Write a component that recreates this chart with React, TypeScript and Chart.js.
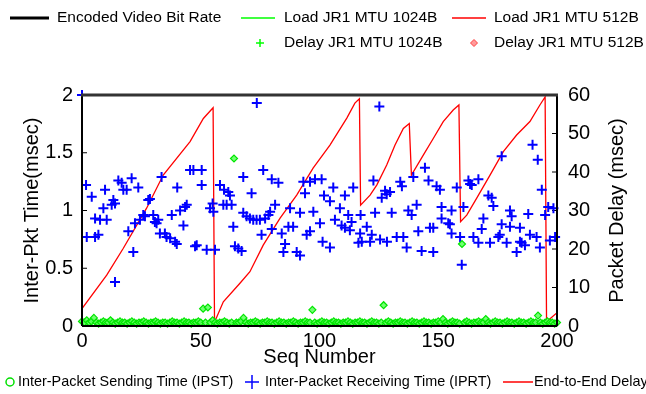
import { useEffect, useRef } from "react";
import { Chart, registerables } from "chart.js";
Chart.register(...registerables);

const FONT = '"Liberation Sans", Arial, Helvetica, sans-serif';

// Inter-Packet Sending Time (IPST), msec, one per sequence number 0..200
const ipstTime = [
  0.04, 0.03, 0.05, 0.03, 0.04, 0.07, 0.03, 0.02, 0.03, 0.04, 0.03, 0.03, 0.05, 0.03, 0.02, 0.03, 0.04, 0.03, 0.03, 0.02,
  0.03, 0.04, 0.03, 0.02, 0.03, 0.03, 0.04, 0.03, 0.02, 0.03, 0.03, 0.04, 0.03, 0.02, 0.03, 0.03, 0.02, 0.03, 0.04, 0.03,
  0.03, 0.02, 0.03, 0.04, 0.03, 0.03, 0.02, 0.03, 0.03, 0.04, 0.03, 0.15, 0.03, 0.16, 0.03, 0.05, 0.03, 0.02, 0.03, 0.03,
  0.04, 0.03, 0.02, 0.03, 1.45, 0.03, 0.03, 0.04, 0.07, 0.03, 0.02, 0.03, 0.03, 0.04, 0.03, 0.02, 0.03, 0.03, 0.04, 0.03,
  0.03, 0.02, 0.03, 0.04, 0.03, 0.03, 0.02, 0.03, 0.03, 0.04, 0.03, 0.02, 0.03, 0.03, 0.04, 0.03, 0.03, 0.14, 0.03, 0.02,
  0.03, 0.04, 0.03, 0.03, 0.02, 0.03, 0.04, 0.03, 0.03, 0.02, 0.03, 0.03, 0.04, 0.03, 0.02, 0.03, 0.03, 0.04, 0.03, 0.03,
  0.02, 0.03, 0.04, 0.03, 0.03, 0.02, 0.03, 0.18, 0.03, 0.04, 0.03, 0.02, 0.03, 0.03, 0.04, 0.03, 0.03, 0.02, 0.03, 0.04,
  0.03, 0.03, 0.02, 0.03, 0.04, 0.03, 0.03, 0.02, 0.03, 0.03, 0.04, 0.03, 0.06, 0.03, 0.02, 0.03, 0.04, 0.03, 0.03, 0.02,
  0.71, 0.03, 0.04, 0.03, 0.02, 0.03, 0.03, 0.04, 0.03, 0.03, 0.06, 0.03, 0.02, 0.03, 0.04, 0.03, 0.03, 0.02, 0.03, 0.04,
  0.03, 0.03, 0.02, 0.03, 0.04, 0.03, 0.03, 0.02, 0.03, 0.04, 0.03, 0.03, 0.09, 0.03, 0.02, 0.03, 0.04, 0.03, 0.03, 0.02,
  0.03,
];

// Inter-Packet Receiving Time (IPRT)
const iprtSeq = [
  0, 1.7, 2.0, 4.1, 5.5, 5.5, 6.9, 7.6, 9.0, 9.7,
  10.4, 12.5, 13.2, 13.9, 13.9, 15.3, 16.7, 17.4, 18.8, 19.5,
  20.9, 21.6, 22.3, 23.7, 24.4, 25.8, 26.5, 27.9, 28.6, 30.0,
  30.7, 31.4, 32.1, 32.8, 33.5, 34.9, 35.6, 37.1, 37.8, 39.2,
  39.9, 40.1, 41.3, 42.7, 43.4, 44.1, 45.5, 46.9, 47.6, 48.3,
  50.4, 50.4, 52.5, 53.9, 55.0, 55.3, 56.0, 58.1, 59.5, 59.8,
  60.9, 61.6, 62.3, 63.0, 63.7, 64.4, 65.8, 67.2, 67.9, 67.9,
  69.3, 70.7, 71.4, 72.1, 73.5, 73.6, 74.9, 75.6, 76.3, 77.1,
  78.5, 79.2, 79.9, 79.9, 81.3, 82.7, 84.1, 84.8, 85.5, 86.9,
  87.6, 88.9, 90.4, 91.8, 91.8, 93.2, 93.9, 94.6, 96.0, 96.0,
  97.4, 98.1, 100.2, 100.9, 101.3, 101.9, 104.4, 104.4, 105.8, 106.5,
  108.6, 109.3, 110.7, 110.7, 112.1, 112.8, 113.5, 114.2, 116.4, 117.1,
  117.3, 117.8, 119.9, 121.3, 122.0, 122.7, 123.4, 125.2, 125.5, 126.2,
  127.6, 128.3, 128.4, 129.7, 130.4, 132.5, 134.0, 134.7, 135.3, 136.7,
  137.4, 138.8, 139.5, 140.9, 141.6, 143.0, 144.4, 145.9, 146.5, 147.9,
  147.9, 149.3, 150.7, 151.4, 151.4, 154.2, 154.9, 155.6, 155.6, 157.8,
  159.2, 159.9, 160.6, 162.7, 163.4, 164.1, 164.8, 166.9, 166.9, 168.3,
  169.0, 171.1, 171.8, 172.5, 173.2, 175.3, 175.9, 176.7, 176.7, 178.8,
  180.2, 180.9, 180.2, 183.0, 184.4, 185.1, 186.5, 184.4, 187.9, 188.6,
  189.7, 191.4, 191.9, 192.8, 193.6, 195.0, 196.3, 197.0, 198.5, 199.2,
];
const iprtTime = [
  2.0, 1.22, 0.77, 1.12, 0.77, 0.93, 0.79, 0.92, 1.02, 1.18,
  0.92, 1.05, 1.09, 1.06, 0.38, 1.26, 1.24, 1.18, 1.18, 0.82,
  1.28, 0.64, 0.89, 1.20, 0.92, 0.96, 0.95, 1.09, 1.10, 0.96,
  0.90, 0.89, 0.92, 0.80, 1.29, 0.80, 0.77, 0.76, 0.96, 0.73,
  0.71, 1.20, 1.00, 0.87, 1.03, 1.05, 1.35, 1.35, 0.69, 0.70,
  1.35, 1.22, 0.66, 1.02, 1.06, 0.99, 0.66, 1.22, 1.05, 1.18,
  1.05, 1.16, 1.13, 1.05, 0.86, 0.69, 0.67, 0.65, 1.29, 0.98,
  0.95, 0.93, 1.15, 0.92, 0.92, 1.93, 0.92, 0.79, 1.35, 0.93,
  0.96, 0.99, 1.27, 0.84, 1.05, 1.24, 0.80, 0.64, 0.71, 0.86,
  1.02, 0.86, 0.64, 0.61, 0.98, 1.25, 1.15, 0.79, 0.82, 1.25,
  0.99, 1.27, 0.89, 1.27, 0.73, 1.13, 1.08, 0.68, 1.20, 0.92,
  1.02, 0.87, 1.13, 0.85, 0.96, 0.83, 0.90, 1.20, 0.72, 0.80,
  0.96, 0.73, 0.86, 0.73, 0.79, 1.26, 0.98, 1.90, 0.75, 1.11,
  1.17, 1.14, 0.73, 1.16, 0.98, 0.77, 1.25, 1.21, 0.77, 0.68,
  1.00, 0.96, 1.29, 1.05, 0.82, 0.65, 1.37, 1.26, 0.85, 0.85,
  0.64, 1.21, 1.18, 1.03, 0.93, 0.89, 0.88, 1.00, 0.80, 1.20,
  0.77, 0.53, 1.03, 1.26, 1.23, 1.22, 0.77, 1.27, 0.72, 0.84,
  0.93, 1.13, 0.72, 1.11, 1.04, 0.77, 0.79, 0.88, 1.47, 0.72,
  1.00, 0.95, 0.86, 0.64, 0.73, 0.72, 0.70, 0.85, 0.97, 0.79,
  1.57, 0.77, 1.44, 0.68, 1.18, 0.96, 1.03, 0.74, 1.02, 0.77,
];

// End-to-End Delay (msec, right axis)
const delaySeq = [
  0, 10.4, 17.4, 27.2, 34.2, 45.5, 51.1, 55.2,
  55.8, 59.5, 66.5, 70.7, 76.3, 83.4, 90.4, 97.3,
  104.4, 111.5, 114.9, 116.8, 117.3, 121.3, 124.1, 128.3,
  131.8, 135.3, 137.8, 138.7, 143.7, 147.9, 152.1, 156.3,
  158.7, 159.4, 162.0, 166.2, 171.8, 177.4, 183.0, 188.6,
  192.8, 195.0, 195.6, 199.9,
];
const delayMs = [
  4.5, 13.2, 20.2, 30.6, 39.2, 47.9, 53.9, 56.7,
  1.0, 6.3, 11.1, 14.1, 21.0, 28.0, 34.0, 41.0,
  47.0, 54.0, 57.9, 59.0, 31.4, 34.0, 36.6, 41.8,
  47.0, 51.3, 52.6, 39.2, 44.4, 48.7, 53.1, 56.1,
  57.4, 27.1, 28.8, 33.2, 39.2, 45.3, 49.6, 53.1,
  57.4, 59.5, 1.1, 3.4,
];

const xTitle = "Seq Number";
const yTitle = "Inter-Pkt Time(msec)";
const y2Title = "Packet Delay (msec)";
const topLegendRow1 = ["Encoded Video Bit Rate", "Load JR1 MTU 1024B", "Load JR1 MTU 512B"];
const topLegendRow2 = ["Delay JR1 MTU 1024B", "Delay JR1 MTU 512B"];
const bottomLegend = ["Inter-Packet Sending Time (IPST)", "Inter-Packet Receiving Time (IPRT)", "End-to-End Delay"];

const GREEN = "#00e600";
const BLUE = "#0000ff";
const RED = "#ff0000";

function line(ctx: CanvasRenderingContext2D, x1: number, y1: number, x2: number, y2: number, color: string, w: number) {
  ctx.save();
  ctx.strokeStyle = color;
  ctx.lineWidth = w;
  ctx.beginPath();
  ctx.moveTo(x1, y1);
  ctx.lineTo(x2, y2);
  ctx.stroke();
  ctx.restore();
}

function text(ctx: CanvasRenderingContext2D, s: string, x: number, y: number, size: number, align: CanvasTextAlign = "left") {
  ctx.save();
  ctx.fillStyle = "#000";
  ctx.font = `${size}px ${FONT}`;
  ctx.textAlign = align;
  ctx.textBaseline = "middle";
  ctx.fillText(s, x, y);
  ctx.restore();
}

const framePlugin = {
  id: "frame",
  beforeDatasetsDraw(chart: any) {
    const { ctx, chartArea } = chart;
    const { left, right, bottom } = chartArea;
    const ys = chart.scales.y;
    ys.ticks.forEach((t: any) => {
      const py = ys.getPixelForValue(t.value);
      line(ctx, left, py, left + 5, py, "#000", 1);
    });
    const y2s = chart.scales.y2;
    y2s.ticks.forEach((t: any) => {
      const py = y2s.getPixelForValue(t.value);
      line(ctx, right - 5, py, right, py, "#000", 1);
    });
    const xs = chart.scales.x;
    xs.ticks.forEach((t: any) => {
      const px = xs.getPixelForValue(t.value);
      line(ctx, px, bottom, px, bottom - 5, "#000", 1);
    });
  },
  afterDatasetsDraw(chart: any) {
    const { ctx, chartArea } = chart;
    const { left, top, right, bottom } = chartArea;
    line(ctx, left, bottom, right, bottom, "#000", 2);
    line(ctx, left, top, left, bottom, "#000", 2);
    line(ctx, right, top, right, bottom, "#000", 2);
    line(ctx, left - 1, top, right + 1, top, "#333", 3);
  },
  afterDraw(chart: any) {
    const { ctx, chartArea } = chart;
    const { left, top, right, bottom } = chartArea;
    // axis titles
    text(ctx, xTitle, (left + right) / 2, 357, 20, "center");
    ctx.save();
    ctx.translate(32, (top + bottom) / 2);
    ctx.rotate(-Math.PI / 2);
    text(ctx, yTitle, 0, 0, 20, "center");
    ctx.restore();
    ctx.save();
    ctx.translate(617, (top + bottom) / 2);
    ctx.rotate(-Math.PI / 2);
    text(ctx, y2Title, 0, 0, 20, "center");
    ctx.restore();

    // top legend, row 1
    const r1 = 18;
    line(ctx, 10, r1, 49, r1, "#000", 3);
    text(ctx, topLegendRow1[0], 57, r1, 15.5);
    line(ctx, 241, r1, 275, r1, "#00ff00", 1.5);
    text(ctx, topLegendRow1[1], 284, r1, 15.5);
    line(ctx, 452, r1, 486, r1, RED, 1.5);
    text(ctx, topLegendRow1[2], 494, r1, 15.5);
    // row 2
    const r2 = 43;
    line(ctx, 256, r2, 264, r2, "#00ff00", 1.5);
    line(ctx, 260, r2 - 4, 260, r2 + 4, "#00ff00", 1.5);
    text(ctx, topLegendRow2[0], 284, r2, 15.5);
    ctx.save();
    ctx.fillStyle = "#ff9a9a";
    ctx.strokeStyle = "#ff4040";
    ctx.lineWidth = 1;
    ctx.beginPath();
    ctx.moveTo(474, r2 - 3.5);
    ctx.lineTo(477.5, r2);
    ctx.lineTo(474, r2 + 3.5);
    ctx.lineTo(470.5, r2);
    ctx.closePath();
    ctx.fill();
    ctx.stroke();
    ctx.restore();
    text(ctx, topLegendRow2[1], 494, r2, 15.5);

    // bottom legend
    const rb = 382;
    ctx.save();
    ctx.strokeStyle = "#00e000";
    ctx.lineWidth = 1.5;
    ctx.beginPath();
    ctx.arc(10, rb, 4, 0, Math.PI * 2);
    ctx.stroke();
    ctx.restore();
    text(ctx, bottomLegend[0], 18, rb, 14.4);
    line(ctx, 245, rb, 259, rb, BLUE, 1.5);
    line(ctx, 252, rb - 7, 252, rb + 7, BLUE, 1.5);
    text(ctx, bottomLegend[1], 265, rb, 14.4);
    line(ctx, 503, rb, 533, rb, RED, 1.5);
    text(ctx, bottomLegend[2], 534, rb, 14.4);
  },
};

export default function App() {
  const ref = useRef<HTMLCanvasElement | null>(null);
  useEffect(() => {
    const canvas = ref.current;
    if (!canvas) return;
    const chart = new Chart(canvas, {
      type: "scatter",
      data: {
        datasets: [
          {
            label: "IPST",
            data: ipstTime.map((v, i) => ({ x: i, y: v })),
            yAxisID: "y",
            pointStyle: "rectRot",
            pointRadius: 3.5,
            borderColor: GREEN,
            backgroundColor: "rgba(90,255,90,0.85)",
            borderWidth: 1.2,
            clip: false,
          } as any,
          {
            label: "IPRT",
            data: iprtSeq.map((s, i) => ({ x: s, y: iprtTime[i] })),
            yAxisID: "y",
            pointStyle: "cross",
            pointRadius: 5,
            borderColor: BLUE,
            backgroundColor: BLUE,
            borderWidth: 2,
            clip: false,
          } as any,
          {
            label: "Delay",
            data: delaySeq.map((s, i) => ({ x: s, y: delayMs[i] })),
            yAxisID: "y2",
            showLine: true,
            borderColor: RED,
            backgroundColor: RED,
            borderWidth: 1.3,
            pointRadius: 0,
            tension: 0,
          } as any,
        ],
      },
      options: {
        responsive: false,
        maintainAspectRatio: false,
        animation: false,
        devicePixelRatio: 1,
        layout: { padding: { top: 95, left: 0, right: 0, bottom: 0 } },
        plugins: { legend: { display: false }, tooltip: { enabled: false } },
        scales: {
          x: {
            type: "linear",
            position: "bottom",
            min: 0,
            max: 200,
            ticks: { stepSize: 50, font: { size: 20, family: FONT }, color: "#000", padding: 3, maxRotation: 0 },
            grid: { display: false, drawTicks: false },
            border: { display: false },
            afterFit: (s: any) => {
              s.height = 68;
            },
          },
          y: {
            type: "linear",
            position: "left",
            min: 0,
            max: 2,
            ticks: {
              stepSize: 0.5,
              font: { size: 20, family: FONT },
              color: "#000",
              padding: 9,
              callback: (v: any) => String(Number(v)),
            },
            grid: { display: false, drawTicks: false },
            border: { display: false },
            afterFit: (s: any) => {
              s.width = 82;
            },
          },
          y2: {
            type: "linear",
            position: "right",
            min: 0,
            max: 60,
            ticks: { stepSize: 10, font: { size: 20, family: FONT }, color: "#000", padding: 11 },
            grid: { display: false, drawTicks: false },
            border: { display: false },
            afterFit: (s: any) => {
              s.width = 89;
            },
          },
        },
      } as any,
      plugins: [framePlugin],
    });
    return () => chart.destroy();
  }, []);

  return (
    <div style={{ position: "fixed", left: 0, top: 0, width: 646, height: 394, background: "#fff" }}>
      <canvas ref={ref} width={646} height={394} style={{ display: "block" }} />
    </div>
  );
}
